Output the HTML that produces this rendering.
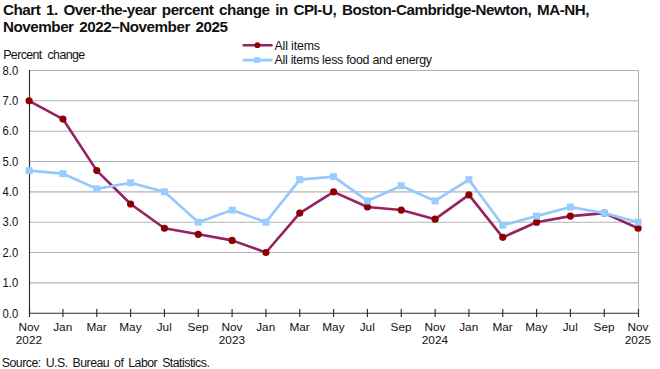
<!DOCTYPE html>
<html><head><meta charset="utf-8"><style>
html,body{margin:0;padding:0;background:#fff;width:660px;height:369px;overflow:hidden}
svg{display:block;font-family:"Liberation Sans", sans-serif;fill:#111}
</style></head><body>
<svg width="660" height="369" viewBox="0 0 660 369">
<line x1="29.5" y1="282.86" x2="639" y2="282.86" stroke="#b3b3b3" stroke-width="1.05"/>
<line x1="29.5" y1="252.52" x2="639" y2="252.52" stroke="#b3b3b3" stroke-width="1.05"/>
<line x1="29.5" y1="222.19" x2="639" y2="222.19" stroke="#b3b3b3" stroke-width="1.05"/>
<line x1="29.5" y1="191.85" x2="639" y2="191.85" stroke="#b3b3b3" stroke-width="1.05"/>
<line x1="29.5" y1="161.51" x2="639" y2="161.51" stroke="#b3b3b3" stroke-width="1.05"/>
<line x1="29.5" y1="131.18" x2="639" y2="131.18" stroke="#b3b3b3" stroke-width="1.05"/>
<line x1="29.5" y1="100.84" x2="639" y2="100.84" stroke="#b3b3b3" stroke-width="1.05"/>
<line x1="29.5" y1="70.50" x2="639" y2="70.50" stroke="#b3b3b3" stroke-width="1.05"/>
<line x1="638.5" y1="70.5" x2="638.5" y2="313.2" stroke="#b3b3b3" stroke-width="1.05"/>
<line x1="29.5" y1="70.0" x2="29.5" y2="313.7" stroke="#2e2e2e" stroke-width="1.15"/>
<line x1="29" y1="313.2" x2="639" y2="313.2" stroke="#2e2e2e" stroke-width="1.15"/>
<line x1="29.50" y1="309" x2="29.50" y2="317" stroke="#2e2e2e" stroke-width="1.15"/>
<line x1="62.93" y1="309" x2="62.93" y2="317" stroke="#2e2e2e" stroke-width="1.15"/>
<line x1="96.77" y1="309" x2="96.77" y2="317" stroke="#2e2e2e" stroke-width="1.15"/>
<line x1="130.60" y1="309" x2="130.60" y2="317" stroke="#2e2e2e" stroke-width="1.15"/>
<line x1="164.43" y1="309" x2="164.43" y2="317" stroke="#2e2e2e" stroke-width="1.15"/>
<line x1="198.27" y1="309" x2="198.27" y2="317" stroke="#2e2e2e" stroke-width="1.15"/>
<line x1="232.10" y1="309" x2="232.10" y2="317" stroke="#2e2e2e" stroke-width="1.15"/>
<line x1="265.93" y1="309" x2="265.93" y2="317" stroke="#2e2e2e" stroke-width="1.15"/>
<line x1="299.77" y1="309" x2="299.77" y2="317" stroke="#2e2e2e" stroke-width="1.15"/>
<line x1="333.60" y1="309" x2="333.60" y2="317" stroke="#2e2e2e" stroke-width="1.15"/>
<line x1="367.43" y1="309" x2="367.43" y2="317" stroke="#2e2e2e" stroke-width="1.15"/>
<line x1="401.27" y1="309" x2="401.27" y2="317" stroke="#2e2e2e" stroke-width="1.15"/>
<line x1="435.10" y1="309" x2="435.10" y2="317" stroke="#2e2e2e" stroke-width="1.15"/>
<line x1="468.93" y1="309" x2="468.93" y2="317" stroke="#2e2e2e" stroke-width="1.15"/>
<line x1="502.77" y1="309" x2="502.77" y2="317" stroke="#2e2e2e" stroke-width="1.15"/>
<line x1="536.60" y1="309" x2="536.60" y2="317" stroke="#2e2e2e" stroke-width="1.15"/>
<line x1="570.43" y1="309" x2="570.43" y2="317" stroke="#2e2e2e" stroke-width="1.15"/>
<line x1="604.27" y1="309" x2="604.27" y2="317" stroke="#2e2e2e" stroke-width="1.15"/>
<line x1="638.50" y1="309" x2="638.50" y2="317" stroke="#2e2e2e" stroke-width="1.15"/>
<text x="2.6" y="317.50" font-size="12.6" textLength="15.6" lengthAdjust="spacingAndGlyphs">0.0</text>
<text x="2.6" y="287.16" font-size="12.6" textLength="15.6" lengthAdjust="spacingAndGlyphs">1.0</text>
<text x="2.6" y="256.82" font-size="12.6" textLength="15.6" lengthAdjust="spacingAndGlyphs">2.0</text>
<text x="2.6" y="226.49" font-size="12.6" textLength="15.6" lengthAdjust="spacingAndGlyphs">3.0</text>
<text x="2.6" y="196.15" font-size="12.6" textLength="15.6" lengthAdjust="spacingAndGlyphs">4.0</text>
<text x="2.6" y="165.81" font-size="12.6" textLength="15.6" lengthAdjust="spacingAndGlyphs">5.0</text>
<text x="2.6" y="135.48" font-size="12.6" textLength="15.6" lengthAdjust="spacingAndGlyphs">6.0</text>
<text x="2.6" y="105.14" font-size="12.6" textLength="15.6" lengthAdjust="spacingAndGlyphs">7.0</text>
<text x="2.6" y="74.80" font-size="12.6" textLength="15.6" lengthAdjust="spacingAndGlyphs">8.0</text>
<text x="28.90" y="331.3" font-size="11.8" text-anchor="middle">Nov</text>
<text x="28.90" y="344.1" font-size="11.8" text-anchor="middle">2022</text>
<text x="62.73" y="331.3" font-size="11.8" text-anchor="middle">Jan</text>
<text x="96.57" y="331.3" font-size="11.8" text-anchor="middle">Mar</text>
<text x="130.40" y="331.3" font-size="11.8" text-anchor="middle">May</text>
<text x="164.23" y="331.3" font-size="11.8" text-anchor="middle">Jul</text>
<text x="198.07" y="331.3" font-size="11.8" text-anchor="middle">Sep</text>
<text x="231.90" y="331.3" font-size="11.8" text-anchor="middle">Nov</text>
<text x="231.90" y="344.1" font-size="11.8" text-anchor="middle">2023</text>
<text x="265.73" y="331.3" font-size="11.8" text-anchor="middle">Jan</text>
<text x="299.57" y="331.3" font-size="11.8" text-anchor="middle">Mar</text>
<text x="333.40" y="331.3" font-size="11.8" text-anchor="middle">May</text>
<text x="367.23" y="331.3" font-size="11.8" text-anchor="middle">Jul</text>
<text x="401.07" y="331.3" font-size="11.8" text-anchor="middle">Sep</text>
<text x="434.90" y="331.3" font-size="11.8" text-anchor="middle">Nov</text>
<text x="434.90" y="344.1" font-size="11.8" text-anchor="middle">2024</text>
<text x="468.73" y="331.3" font-size="11.8" text-anchor="middle">Jan</text>
<text x="502.57" y="331.3" font-size="11.8" text-anchor="middle">Mar</text>
<text x="536.40" y="331.3" font-size="11.8" text-anchor="middle">May</text>
<text x="570.23" y="331.3" font-size="11.8" text-anchor="middle">Jul</text>
<text x="604.07" y="331.3" font-size="11.8" text-anchor="middle">Sep</text>
<text x="637.90" y="331.3" font-size="11.8" text-anchor="middle">Nov</text>
<text x="637.90" y="344.1" font-size="11.8" text-anchor="middle">2025</text>
<polyline points="29.10,100.84 62.93,119.04 96.77,170.61 130.60,203.98 164.43,228.25 198.27,234.32 232.10,240.39 265.93,252.52 299.77,213.09 333.60,191.85 367.43,207.02 401.27,210.05 435.10,219.15 468.93,194.88 502.77,237.36 536.60,222.19 570.43,216.12 604.27,213.09 638.10,228.25" fill="none" stroke="#952262" stroke-width="2.6" stroke-linejoin="round" stroke-linecap="round"/>
<circle cx="29.10" cy="100.84" r="3.6" fill="#8b0000"/>
<circle cx="62.93" cy="119.04" r="3.6" fill="#8b0000"/>
<circle cx="96.77" cy="170.61" r="3.6" fill="#8b0000"/>
<circle cx="130.60" cy="203.98" r="3.6" fill="#8b0000"/>
<circle cx="164.43" cy="228.25" r="3.6" fill="#8b0000"/>
<circle cx="198.27" cy="234.32" r="3.6" fill="#8b0000"/>
<circle cx="232.10" cy="240.39" r="3.6" fill="#8b0000"/>
<circle cx="265.93" cy="252.52" r="3.6" fill="#8b0000"/>
<circle cx="299.77" cy="213.09" r="3.6" fill="#8b0000"/>
<circle cx="333.60" cy="191.85" r="3.6" fill="#8b0000"/>
<circle cx="367.43" cy="207.02" r="3.6" fill="#8b0000"/>
<circle cx="401.27" cy="210.05" r="3.6" fill="#8b0000"/>
<circle cx="435.10" cy="219.15" r="3.6" fill="#8b0000"/>
<circle cx="468.93" cy="194.88" r="3.6" fill="#8b0000"/>
<circle cx="502.77" cy="237.36" r="3.6" fill="#8b0000"/>
<circle cx="536.60" cy="222.19" r="3.6" fill="#8b0000"/>
<circle cx="570.43" cy="216.12" r="3.6" fill="#8b0000"/>
<circle cx="604.27" cy="213.09" r="3.6" fill="#8b0000"/>
<circle cx="638.10" cy="228.25" r="3.6" fill="#8b0000"/>
<polyline points="29.10,170.61 62.93,173.65 96.77,188.82 130.60,182.75 164.43,191.85 198.27,222.19 232.10,210.05 265.93,222.19 299.77,179.71 333.60,176.68 367.43,200.95 401.27,185.78 435.10,200.95 468.93,179.71 502.77,225.22 536.60,216.12 570.43,207.02 604.27,213.09 638.10,222.19" fill="none" stroke="#94c8ff" stroke-width="2.7" stroke-linejoin="round" stroke-linecap="round"/>
<rect x="25.60" y="167.11" width="7" height="7" fill="#99ccff"/>
<rect x="59.43" y="170.15" width="7" height="7" fill="#99ccff"/>
<rect x="93.27" y="185.32" width="7" height="7" fill="#99ccff"/>
<rect x="127.10" y="179.25" width="7" height="7" fill="#99ccff"/>
<rect x="160.93" y="188.35" width="7" height="7" fill="#99ccff"/>
<rect x="194.77" y="218.69" width="7" height="7" fill="#99ccff"/>
<rect x="228.60" y="206.55" width="7" height="7" fill="#99ccff"/>
<rect x="262.43" y="218.69" width="7" height="7" fill="#99ccff"/>
<rect x="296.27" y="176.21" width="7" height="7" fill="#99ccff"/>
<rect x="330.10" y="173.18" width="7" height="7" fill="#99ccff"/>
<rect x="363.93" y="197.45" width="7" height="7" fill="#99ccff"/>
<rect x="397.77" y="182.28" width="7" height="7" fill="#99ccff"/>
<rect x="431.60" y="197.45" width="7" height="7" fill="#99ccff"/>
<rect x="465.43" y="176.21" width="7" height="7" fill="#99ccff"/>
<rect x="499.27" y="221.72" width="7" height="7" fill="#99ccff"/>
<rect x="533.10" y="212.62" width="7" height="7" fill="#99ccff"/>
<rect x="566.93" y="203.52" width="7" height="7" fill="#99ccff"/>
<rect x="600.77" y="209.59" width="7" height="7" fill="#99ccff"/>
<rect x="634.60" y="218.69" width="7" height="7" fill="#99ccff"/>
<line x1="243.8" y1="45.2" x2="271.5" y2="45.2" stroke="#952262" stroke-width="2.6" stroke-linecap="round"/>
<circle cx="257.4" cy="45.2" r="2.9" fill="#8b0000"/>
<text x="274.5" y="49.7" font-size="12.4" textLength="45.5" lengthAdjust="spacing">All items</text>
<line x1="243.8" y1="60.1" x2="271.5" y2="60.1" stroke="#94c8ff" stroke-width="2.6" stroke-linecap="round"/>
<rect x="254.2" y="57.1" width="5.8" height="5.8" fill="#99ccff"/>
<text x="274.5" y="63.9" font-size="12.4" textLength="157.5" lengthAdjust="spacing">All items less food and energy</text>
<text x="3.2" y="59.2" font-size="12.4" word-spacing="3" textLength="82" lengthAdjust="spacing">Percent change</text>
<text x="1.8" y="367.1" font-size="12.3" word-spacing="2" textLength="208" lengthAdjust="spacing">Source: U.S. Bureau of Labor Statistics.</text>
<text x="3" y="15.4" font-size="15.2" font-weight="bold" word-spacing="2" textLength="586.5" lengthAdjust="spacing">Chart 1. Over-the-year percent change in CPI-U, Boston-Cambridge-Newton, MA-NH,</text>
<text x="3" y="31.9" font-size="15.2" font-weight="bold" word-spacing="2" textLength="225" lengthAdjust="spacing">November 2022–November 2025</text>
</svg></body></html>
